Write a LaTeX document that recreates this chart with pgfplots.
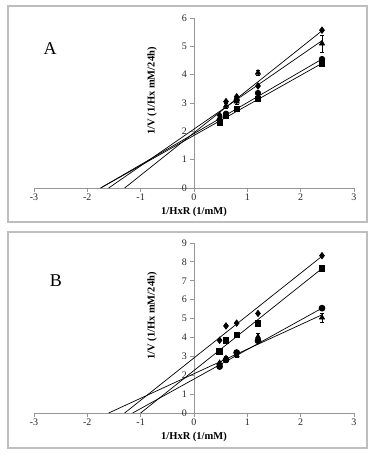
\documentclass[border=0pt]{standalone}
\usepackage{fontspec}
\setmainfont{Liberation Serif}
\usepackage{pgfplots}
\pgfplotsset{compat=1.18}
\definecolor{axgray}{RGB}{150,150,150}
\definecolor{boxgray}{RGB}{190,190,190}
\pgfplotsset{panel/.style={
  scale only axis, width=320pt, height=170pt,
  xmin=-3, xmax=3, ymin=0,
  axis x line=bottom, axis y line=middle,
  hide obscured x ticks=false, hide obscured y ticks=false,
  axis line style={-, draw=axgray, line width=0.8pt},
  tick style={axgray, line width=0.8pt},
  major tick length=4pt, tick align=outside,
  xtick={-3,-2,-1,0,1,2,3},
  /pgf/number format/assume math mode=true,
  tick label style={font=\fontsize{10}{11}\selectfont, text=black!85},
  yticklabel style={inner sep=3pt},
  xticklabel style={inner sep=2pt},
  xlabel={\textbf{1/HxR (1/mM)}},
  ylabel={\textbf{1/V (1/Hx mM/24h)}},
  label style={font=\fontsize{10.5}{12}\selectfont},
  xlabel style={at={(axis description cs:0.5,-0.14)}, anchor=center},
  ylabel style={at={(axis description cs:0.369,0.57)}, anchor=center, rotate=90},
  every axis plot/.append style={black, line width=0.7pt},
  clip=false,
}}
\begin{document}
\begin{tikzpicture}[x=1pt,y=1pt]
\useasboundingbox (0,0) rectangle (375,456);
\draw[boxgray, line width=1.5pt] (8,234) rectangle (367,450);
\draw[boxgray, line width=1.5pt] (8,8) rectangle (367,224);
\node at (50,407) {\fontsize{18}{20}\selectfont A};
\node at (56,175) {\fontsize{18}{20}\selectfont B};
% Panel A
\begin{axis}[panel, at={(34pt,268pt)}, anchor=south west, ymax=6, ytick={0,1,2,3,4,5,6}]
% regression lines
\addplot[no marks] coordinates {(-1.3,0) (2.4,5.55)};
\addplot[no marks] coordinates {(-1.6,0) (2.4,5.2)};
\addplot[no marks] coordinates {(-1.75,0) (2.4,4.55)};
\addplot[no marks] coordinates {(-1.75,0) (2.4,4.4)};
% data
\addplot[only marks, mark=diamond*, mark size=3.2pt] coordinates {(0.48,2.57) (0.6,3.05) (0.8,3.22) (1.2,3.6) (2.4,5.57)};
\addplot[only marks, mark=square*, mark size=2.6pt] coordinates {(0.48,2.3) (0.6,2.55) (0.8,2.8) (1.2,3.15) (2.4,4.4)};
\addplot[only marks, mark=*, mark size=2.8pt] coordinates {(0.48,2.4) (0.6,2.62) (0.8,3.1) (1.2,3.35) (2.4,4.55)};
\addplot[only marks, mark=triangle*, mark size=3pt,
  error bars/.cd, y dir=both, y explicit, error bar style={line width=0.7pt}, error mark options={rotate=90, mark size=2pt}]
  coordinates {(0.48,2.45) +- (0,0.08) (0.6,2.9) +- (0,0.1) (0.8,3.05) +- (0,0.1) (1.2,4.07) +- (0,0.1) (2.4,5.1) +- (0,0.3)};
\end{axis}
% Panel B
\begin{axis}[panel, at={(34pt,43pt)}, anchor=south west, ymax=9, ytick={0,1,2,3,4,5,6,7,8,9}]
\addplot[no marks] coordinates {(-1.3,0) (2.4,8.3)};
\addplot[no marks] coordinates {(-1.0,0) (2.4,7.65)};
\addplot[no marks] coordinates {(-1.15,0) (2.4,5.55)};
\addplot[no marks] coordinates {(-1.6,0) (2.4,5.2)};
\addplot[only marks, mark=diamond*, mark size=3.2pt] coordinates {(0.48,3.85) (0.6,4.61) (0.8,4.76) (1.2,5.27) (2.4,8.33)};
\addplot[only marks, mark=square*, mark size=2.8pt] coordinates {(0.48,3.25) (0.6,3.85) (0.8,4.14) (1.2,4.76) (2.4,7.67)};
\addplot[only marks, mark=*, mark size=3pt] coordinates {(0.48,2.46) (0.6,2.81) (0.8,3.2) (1.2,3.82) (2.4,5.55)};
\addplot[only marks, mark=triangle*, mark size=3pt,
  error bars/.cd, y dir=both, y explicit, error bar style={line width=0.7pt}, error mark options={rotate=90, mark size=2pt}]
  coordinates {(0.48,2.65) +- (0,0.08) (0.6,2.9) +- (0,0.1) (0.8,3.05) +- (0,0.08) (1.2,4.03) +- (0,0.2) (2.4,5.05) +- (0,0.25)};
\end{axis}
\end{tikzpicture}
\end{document}
